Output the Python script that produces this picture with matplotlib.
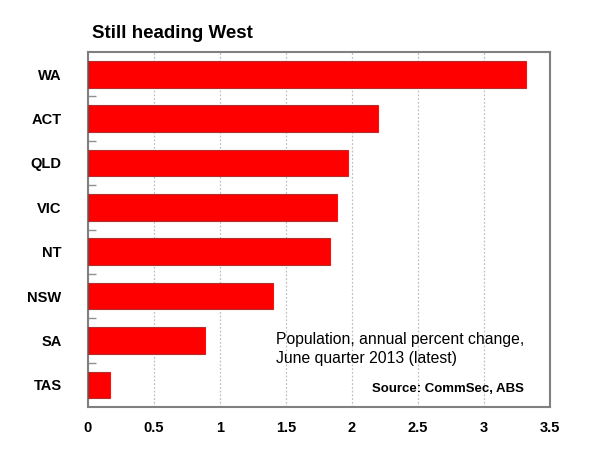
import matplotlib
matplotlib.use("Agg")
import matplotlib.pyplot as plt
import numpy as np

categories = ["WA", "ACT", "QLD", "VIC", "NT", "NSW", "SA", "TAS"]
values = [3.32, 2.20, 1.97, 1.89, 1.83, 1.40, 0.89, 0.17]
xticks = [0, 0.5, 1, 1.5, 2, 2.5, 3, 3.5]
xticklabels = ["0", "0.5", "1", "1.5", "2", "2.5", "3", "3.5"]

plt.rcParams['font.family'] = ['Liberation Sans', 'DejaVu Sans']

fig = plt.figure(figsize=(6, 4.55), dpi=100)
W, H = 600, 455
ax = fig.add_axes([88 / W, 1 - 407 / H, (550 - 88) / W, (407 - 52) / H])

y = np.arange(len(categories))[::-1]
ax.barh(y, values, height=0.6, color="#ff0000", edgecolor="#b03030", linewidth=0.8, zorder=3)

ax.set_xlim(0, 3.5)
ax.set_ylim(-0.5, len(categories) - 0.5)
ax.set_xticks(xticks)
ax.set_xticklabels(xticklabels, fontsize=10.5, fontweight="bold")
ax.set_yticks(y)
ax.set_yticklabels(categories, fontsize=10.5, fontweight="bold")
ax.tick_params(axis="both", length=0)
ax.tick_params(axis="y", pad=19)
ax.tick_params(axis="x", pad=10)
ax.set_yticks(np.arange(len(categories) - 1) + 0.5, minor=True)
ax.tick_params(axis="y", which="minor", direction="in", length=6, color="#909090", width=1)

ax.xaxis.grid(True, linestyle=(0, (1.5, 1.5)), color="#c0c0c0", linewidth=0.9, zorder=0)
ax.set_axisbelow(True)
for s in ax.spines.values():
    s.set_color("#808080")
    s.set_linewidth(1.5)

fig.text(92 / W, 1 - 33 / H, "Still heading West", fontsize=13.5, fontweight="bold", va="center", ha="left")

ax.text(276 / W, 1 - 332 / H, "Population, annual percent change,\nJune quarter 2013 (latest)",
        transform=fig.transFigure, fontsize=11.3, va="top", ha="left", linespacing=1.35)
ax.text(524 / W, 1 - 392 / H, "Source: CommSec, ABS", transform=fig.transFigure,
        fontsize=9.5, fontweight="bold", va="baseline", ha="right")

fig.savefig("out.png", dpi=100, facecolor="white")
